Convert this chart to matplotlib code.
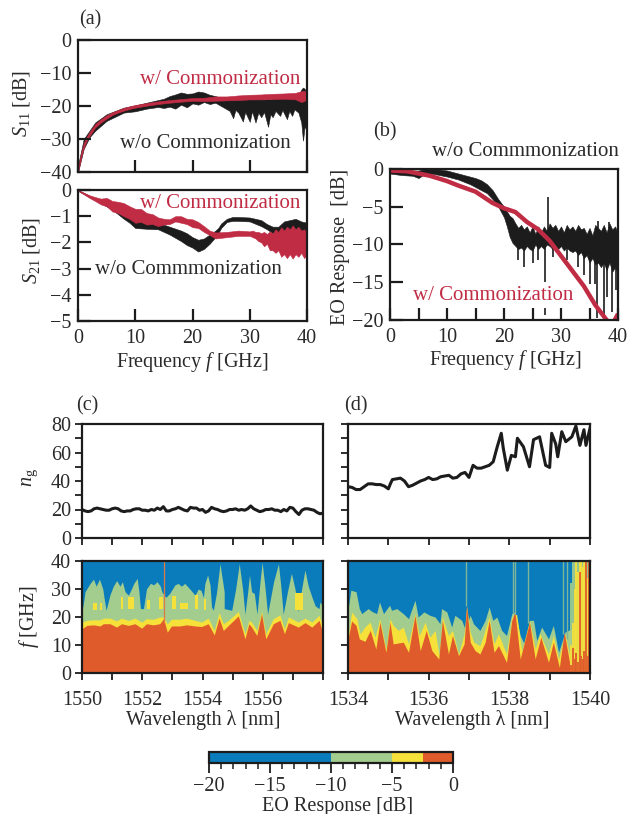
import matplotlib
matplotlib.use("Agg")
import matplotlib.pyplot as plt
from matplotlib.colors import ListedColormap, BoundaryNorm
from matplotlib.cm import ScalarMappable
from matplotlib.ticker import MultipleLocator

plt.rcParams['font.family'] = ['Liberation Serif', 'DejaVu Serif']
plt.rcParams['mathtext.fontset'] = 'custom'
plt.rcParams['mathtext.rm'] = 'Liberation Serif'
plt.rcParams['mathtext.it'] = 'Liberation Serif:italic'
plt.rcParams['font.size'] = 14

W, H = 629, 814
BLACK = '#1c1c1c'
RED = '#c02c44'
TXT = '#2a2a2a'
BLUE, GREEN, YELLOW, ORANGE = '#0a7cbc', '#a2cd8e', '#f6e03a', '#e05b2b'
THIN = '#7fb59a'

# --- (a) S11 ---
s11_red_f = [0, .3, .6, 1, 1.5, 2, 3, 4, 5, 6, 7, 8, 9, 10, 12, 14, 16, 18, 20, 22, 24, 26, 28, 30, 32, 34, 36, 38, 39, 39.5, 40]
s11_red_hi = [-39, -36.2, -33.8, -31.3, -29.4, -27.9, -25.5, -24, -22.8, -21.9, -21.2, -20.6, -20.1, -19.7, -19.1, -18.6, -18.2, -17.9, -17.6, -17.5, -17.1, -17.1, -16.8, -16.6, -16.5, -16.3, -16.2, -16, -15.5, -15.5, -15.5]
s11_red_lo = [-40, -37.8, -35.2, -32.7, -30.6, -29.1, -26.5, -25, -23.8, -22.7, -22, -21.4, -20.9, -20.5, -19.9, -19.4, -19, -18.7, -18.4, -18.5, -18.4, -18.3, -18.2, -18, -18, -17.9, -17.8, -18, -18.8, -18.5, -18]

s11_blk_f = [0, 1, 2, 3, 5, 8, 10, 12, 14, 15, 16, 17, 18, 19, 20, 21, 22, 23, 24, 25, 26, 26.5, 27.1, 27.5, 28, 28.8, 29.2, 30, 30.4, 31, 31.5, 32, 32.5, 33.2, 33.6, 34, 34.5, 35.3, 35.7, 36.5, 36.9, 37.4, 37.8, 38.5, 39, 39.3, 39.6, 40]
s11_blk_hi = [-38, -30, -27.5, -25, -22.5, -20.5, -19.8, -19, -18.2, -17.8, -17, -16.5, -15.9, -16.3, -16.2, -15.6, -15.9, -16.6, -17, -17.5, -18, -17.6, -18, -17.5, -18, -17.6, -18, -17.6, -18, -17.7, -18, -17.6, -18, -17.8, -18, -17.6, -17.8, -17.5, -17.8, -17.4, -17.6, -17.3, -17.4, -17, -15, -14.4, -14.8, -16]
s11_blk_lo = [-40, -33, -29.5, -27.5, -24.5, -22, -21.6, -20.8, -20.3, -20.6, -20.2, -20.8, -19.6, -20.4, -19.2, -19.6, -18.8, -19.4, -19, -20, -21, -21.5, -23.7, -21.2, -22, -24.7, -21.8, -24.8, -21.6, -25, -22, -23.4, -21.8, -26.3, -22.5, -23.4, -21.5, -23, -21.2, -24, -21.5, -23, -21, -22, -25, -30.5, -26, -28]

# --- (a) S21 ---
s21_red_f = [0, 1, 2, 3, 4, 5, 6, 7, 8, 9, 10, 11, 12, 13, 14, 15, 16, 17, 18, 19, 20, 21, 22, 23, 24, 26, 28, 30, 30.5, 31, 31.5, 32, 32.5, 33, 33.5, 34, 34.5, 35, 35.5, 36, 36.5, 37, 37.5, 38, 38.5, 39, 39.5, 40]
s21_red_hi = [0, -.1, -.2, -.27, -.33, -.3, -.42, -.45, -.5, -.62, -.72, -.72, -.88, -.92, -1.05, -1.1, -1.12, -1, -1, -1.1, -1.12, -1.22, -1.38, -1.55, -1.62, -1.6, -1.55, -1.58, -1.55, -1.6, -1.6, -1.65, -1.6, -1.68, -1.58, -1.66, -1.5, -1.6, -1.42, -1.55, -1.4, -1.5, -1.35, -1.5, -1.4, -1.55, -1.5, -1.65]
s21_red_lo = [-.03, -.16, -.3, -.42, -.55, -.62, -.82, -.88, -1, -1.1, -1.25, -1.22, -1.32, -1.3, -1.38, -1.32, -1.3, -1.2, -1.25, -1.3, -1.42, -1.45, -1.6, -1.72, -1.85, -1.8, -1.75, -1.75, -1.8, -1.85, -1.95, -2, -2.15, -2.05, -2.3, -2.3, -2.4, -2.3, -2.55, -2.45, -2.6, -2.45, -2.62, -2.45, -2.55, -2.4, -2.6, -2.45]

s21_blk_f = [0, 2, 4, 6, 8, 9, 10, 12, 14, 16, 18, 19, 20, 21, 22, 23, 24, 24.5, 25, 26, 27, 28, 30, 32, 33, 34, 35, 36, 37, 38, 39, 40]
s21_blk_hi = [0, -.22, -.42, -.6, -.85, -1, -1.15, -1.2, -1.25, -1.4, -1.55, -1.65, -1.8, -1.9, -1.85, -1.7, -1.55, -1.45, -1.28, -1.1, -1.03, -1.03, -1.05, -1.15, -1.3, -1.4, -1.4, -1.2, -1.15, -1.1, -1.2, -1.25]
s21_blk_lo = [-.03, -.27, -.5, -.75, -1.1, -1.25, -1.45, -1.48, -1.5, -1.7, -1.95, -2.1, -2.2, -2.35, -2.25, -2.05, -1.8, -1.65, -1.45, -1.22, -1.18, -1.18, -1.2, -1.38, -1.5, -1.65, -1.75, -1.6, -1.55, -1.6, -1.65, -1.7]

# --- (b) EO response ---
eo_red_f = [0, 3, 5, 7, 10, 12, 15, 17, 18, 20, 22, 24, 26, 28, 30, 32, 34, 36, 37, 38, 39, 40]
eo_red = [-.2, -.3, -.6, -.9, -1.6, -2.2, -3, -4, -4.5, -5.2, -5.7, -7, -8, -9.5, -11.5, -13.5, -15.5, -18, -19, -20, -20.6, -19.2]

eo_blk_f = [0, 2, 4, 5, 6, 7, 8, 10, 12, 14, 15, 16, 17, 18, 19, 20, 20.5, 21, 21.5, 22, 22.5, 23, 23.5, 24, 24.5, 25, 25.5, 26, 26.5, 27, 27.5, 28, 28.5, 29, 29.5, 30, 30.5, 31, 31.5, 32, 32.5, 33, 33.5, 34, 34.5, 35, 35.5, 36, 36.5, 37, 37.5, 38, 38.5, 39, 39.5, 40]
eo_blk_hi = [-.1, -.1, -.2, -.2, 0, 0, 0, -.2, -.6, -1, -1.2, -1.5, -2, -2.8, -4, -5, -5.6, -6.2, -6.5, -7.2, -7.8, -7.4, -8, -7.6, -8.4, -7.6, -8.6, -7.6, -8.4, -7.6, -8.2, -7.2, -7.8, -7.4, -8.2, -7.6, -8.4, -7.4, -8, -7.6, -8.2, -7.4, -8, -7.8, -8.6, -7.8, -8.8, -7.4, -7.8, -8.2, -7.4, -8.4, -7.2, -8, -7.6, -8.6]
eo_blk_lo = [-.6, -.8, -.9, -1.2, -.7, -.6, -.7, -1, -1.4, -2, -2.4, -2.8, -3.2, -4, -5, -6.4, -7.6, -9, -9.8, -10.2, -10.6, -10.4, -10.8, -10.2, -10.6, -10.8, -10, -10.6, -10.2, -10.6, -10, -10.2, -10.6, -10.2, -10.6, -10.2, -10.8, -10.4, -10.8, -11, -10.8, -11.4, -11, -11.8, -11.4, -12.4, -11.8, -12.6, -12.4, -13, -12.4, -13.4, -12.4, -13.6, -13, -14]
eo_spike_f = [27.2, 27.8, 27.2, 22.4, 23.5, 25, 26, 28.6, 31, 33, 34, 35, 36, 36.4, 37.5, 38, 39, 39.6, 36.5, 38.5]
eo_spike_top = [-9, -3.7, -18.4, -10, -10, -10, -10, -10, -10, -10, -11, -11, -12, -12, -12, -12, -13, -13, -6.9, -7]
eo_spike_bot = [-15, -9, -19.3, -12, -13, -12.5, -12, -11.7, -12, -13, -14, -15.2, -15.2, -19.8, -19.8, -17, -19, -16, -8, -8]

# --- (c) group index ---
ng_c_wl = [1550 + i * 0.1 for i in range(81)]
ng_c = [20, 19, 18.5, 19, 20.5, 21, 20.5, 20, 19.5, 19.5, 20.5, 21, 20.5, 19, 18.5, 19, 19, 20, 20.5, 20.5,
        19.5, 19.5, 19, 20, 19.5, 21, 20, 22, 19, 19, 20, 20.5, 21.5, 20.5, 19.5, 19, 21.5, 21, 21, 19.5,
        20, 18, 19, 21.5, 20.5, 20, 19, 18.5, 19, 20, 20, 20.5, 19.5, 20, 19.5, 20.5, 22.5, 20.5, 19.5, 18.5,
        19, 20, 20, 20.5, 19.5, 19.5, 18.5, 20, 19, 21.5, 21, 18.5, 16.5, 19.5, 20.5, 20.5, 20, 19.5, 18, 17, 17.5]

# --- (d) group index ---
ng_d_wl = [1534, 1534.1, 1534.2, 1534.3, 1534.4, 1534.5, 1534.6, 1534.7, 1534.8, 1534.9, 1535, 1535.05, 1535.1, 1535.2, 1535.3, 1535.4, 1535.5, 1535.6, 1535.7, 1535.8, 1535.9, 1536, 1536.1, 1536.2, 1536.3, 1536.4, 1536.5, 1536.6, 1536.7, 1536.8, 1536.9, 1537, 1537.1, 1537.2, 1537.3, 1537.4, 1537.5, 1537.6, 1537.7, 1537.8, 1537.85, 1537.95, 1538.05, 1538.15, 1538.2, 1538.35, 1538.5, 1538.6, 1538.75, 1538.9, 1539, 1539.05, 1539.15, 1539.2, 1539.3, 1539.4, 1539.55, 1539.65, 1539.75, 1539.85, 1539.9, 1540]
ng_d = [36, 35.5, 34, 34, 36, 38, 38, 37.5, 37.5, 36.5, 34.5, 38, 41, 41.5, 42, 40, 36, 37, 38.5, 40, 41, 42.5, 41, 41.5, 43, 43.5, 44, 42, 42.5, 45, 46, 42.5, 51, 49, 49, 50, 51, 53.5, 64, 73.5, 63, 47.6, 58, 57, 70, 64, 50, 69, 71, 51, 49.5, 73.5, 66, 57, 74.6, 67.6, 71, 78.6, 65, 76, 65, 77]

# --- (c) map: top frequency of each colour band ---
c_org_wl = [1550, 1550.16, 1550.38, 1550.6, 1550.71, 1550.93, 1551.15, 1551.31, 1551.54, 1551.76, 1551.98, 1552.14, 1552.36, 1552.58, 1552.71, 1552.83, 1552.97, 1553.25, 1553.47, 1553.75, 1553.97, 1554.19, 1554.39, 1554.55, 1554.69, 1554.86, 1555.19, 1555.41, 1555.54, 1555.63, 1555.8, 1555.96, 1556.1, 1556.35, 1556.57, 1556.72, 1556.85, 1557.18, 1557.4, 1557.63, 1557.87, 1558]
c_org = [15.8, 17, 17.2, 16.8, 17.6, 17.6, 16.4, 17.6, 17, 17.6, 16, 17.6, 17.2, 17.6, 19.4, 14.6, 16.8, 16.8, 17.2, 16.8, 16.6, 17.6, 13.6, 19.6, 15.2, 17, 20.4, 12.2, 17.6, 16.4, 13.4, 21.2, 12.2, 17.6, 18.8, 14, 18, 16.4, 18, 16.4, 18.8, 14]
c_yel = [18.2, 18.8, 19, 19, 19.6, 19.6, 18.6, 19.6, 18.8, 19.6, 18.2, 19.4, 19.2, 20, 20, 17.6, 19.2, 19.2, 19.6, 18.8, 18.2, 19.6, 15.2, 21.6, 17.6, 18.8, 22, 14, 18.8, 18.2, 15.2, 22, 14, 19.4, 20.8, 15.8, 20, 18.2, 19.6, 18.2, 20.6, 16.4]
c_grn_wl = [1550, 1550.07, 1550.1, 1550.27, 1550.38, 1550.47, 1550.58, 1550.69, 1550.73, 1550.8, 1550.93, 1551.04, 1551.15, 1551.26, 1551.34, 1551.43, 1551.54, 1551.64, 1551.72, 1551.83, 1551.89, 1551.94, 1552.04, 1552.14, 1552.27, 1552.38, 1552.49, 1552.6, 1552.65, 1552.78, 1552.91, 1553.08, 1553.19, 1553.3, 1553.41, 1553.58, 1553.75, 1553.86, 1553.95, 1554.03, 1554.08, 1554.17, 1554.25, 1554.3, 1554.36, 1554.47, 1554.58, 1554.72, 1554.72, 1554.97, 1555.1, 1555.22, 1555.33, 1555.41, 1555.5, 1555.56, 1555.63, 1555.72, 1555.81, 1555.91, 1555.98, 1556.08, 1556.16, 1556.36, 1556.52, 1556.6, 1556.68, 1556.82, 1556.95, 1557.07, 1557.18, 1557.29, 1557.4, 1557.51, 1557.65, 1557.74, 1557.87, 1557.9, 1558]
c_grn = [22, 26.5, 29, 32, 33.5, 31, 33.5, 30, 27, 22.4, 28, 31, 33, 31, 32.6, 29, 27.8, 30, 32, 33.8, 29, 23, 23, 30, 32, 31.5, 32.6, 31, 29, 27, 28.4, 31.4, 32, 31, 32, 30, 27.8, 30, 29.5, 27, 32, 35, 31.4, 23.6, 22.4, 29, 39, 29, 23, 22.4, 30, 39, 30, 21, 29, 35, 29, 28.4, 21, 32.6, 39.5, 30, 21, 32.6, 39, 31, 21, 29, 35.6, 30, 22, 30, 36.8, 31, 26.6, 24, 23, 25.4, 23.6]
c_isle_l = [1550.38, 1550.6, 1551.28, 1551.52, 1552.17, 1552.57, 1552.98, 1553.25, 1553.75, 1554.06, 1557.07]
c_isle_r = [1550.51, 1550.66, 1551.37, 1551.73, 1552.26, 1552.68, 1553.12, 1553.53, 1553.84, 1554.12, 1557.32]
c_isle_lo = [22.5, 22.5, 23, 23, 23, 23, 23, 23, 23, 22.5, 22.5]
c_isle_hi = [25, 25, 27, 27, 26, 27, 27.5, 25, 28, 26.5, 28.5]
c_line_wl = [1552.72]

# --- (d) map ---
d_grn_wl = [1534, 1534.07, 1534.2, 1534.28, 1534.34, 1534.5, 1534.59, 1534.71, 1534.78, 1534.88, 1535.03, 1535.08, 1535.21, 1535.37, 1535.5, 1535.66, 1535.74, 1535.88, 1536.03, 1536.16, 1536.28, 1536.32, 1536.45, 1536.57, 1536.65, 1536.82, 1536.9, 1537.03, 1537.11, 1537.27, 1537.4, 1537.5, 1537.59, 1537.69, 1537.81, 1537.93, 1538.06, 1538.14, 1538.27, 1538.39, 1538.5, 1538.6, 1538.68, 1538.8, 1538.97, 1539.09, 1539.22, 1539.38, 1539.55]
d_grn = [22.4, 29.6, 29, 23, 21.2, 23, 22, 21.2, 25.4, 21.2, 24.2, 22.4, 23, 21.2, 19.4, 26, 20, 21.8, 20.6, 20, 17.6, 23, 21.8, 16.4, 20.6, 18.8, 15.8, 20.6, 17.6, 15.2, 18.8, 23.6, 18.8, 20, 15.2, 13.4, 21.2, 21.8, 13.4, 9.8, 18.8, 18.8, 11.6, 16.4, 12.2, 17, 7.4, 14.6, 15.8]
d_yel_wl = [1534, 1534.09, 1534.22, 1534.3, 1534.42, 1534.55, 1534.67, 1534.79, 1534.94, 1535.04, 1535.12, 1535.25, 1535.37, 1535.5, 1535.66, 1535.77, 1535.91, 1536.03, 1536.16, 1536.26, 1536.34, 1536.49, 1536.59, 1536.74, 1536.88, 1536.94, 1537.03, 1537.12, 1537.27, 1537.37, 1537.5, 1537.62, 1537.73, 1537.93, 1538.06, 1538.18, 1538.31, 1538.5, 1538.64, 1538.76, 1538.97, 1539.09, 1539.22, 1539.38, 1539.55]
d_yel = [12.8, 21.8, 19.4, 14, 16.5, 18.2, 12.8, 19.4, 8.6, 19.4, 17, 15.2, 16.4, 10.4, 21.2, 13.4, 18.2, 12.8, 15.2, 6.2, 20, 13.4, 15.2, 6.8, 14, 24, 14.6, 11, 9.8, 14, 20, 10.4, 14, 6.8, 20, 21, 8, 18.8, 8.6, 14, 6.8, 13.4, 5, 14, 2.6]
d_org_wl = [1534, 1534.09, 1534.2, 1534.28, 1534.42, 1534.55, 1534.69, 1534.79, 1534.94, 1535.04, 1535.12, 1535.37, 1535.5, 1535.66, 1535.79, 1535.94, 1536.08, 1536.25, 1536.34, 1536.49, 1536.59, 1536.74, 1536.88, 1536.94, 1537.03, 1537.15, 1537.27, 1537.4, 1537.5, 1537.62, 1537.73, 1537.93, 1538.06, 1538.14, 1538.27, 1538.5, 1538.64, 1538.78, 1538.97, 1539.09, 1539.24, 1539.36, 1539.5, 1539.63, 1539.8, 1539.96]
d_org = [12.2, 18.6, 17, 12.2, 11.3, 15.2, 8.6, 18.2, 7.4, 18.2, 10.4, 11, 7.4, 20.6, 8, 15.2, 8, 5, 18.8, 6.8, 13.4, 6.2, 10.4, 24, 11, 8, 6.8, 11, 18.8, 7.4, 9.8, 3.8, 18.8, 21.8, 5, 18.2, 5, 12.8, 3.8, 11, 2, 14.6, 3.2, 7.4, 2.6, 0.5]
d_thin_wl = [1536.92, 1538.08, 1538.14, 1538.47, 1539.32, 1539.42]
d_thin_bot = [24, 21, 21, 18, 14, 12]
d_stripe_wl = [1539.54, 1539.58, 1539.62, 1539.66, 1539.7, 1539.74, 1539.78, 1539.82, 1539.86, 1539.9, 1539.94, 1539.98]
d_stripe_grn = [32, 40, 40, 40, 40, 40, 40, 40, 40, 40, 40, 40]
d_stripe_yel = [10, 18, 30, 40, 36, 40, 40, 38, 40, 40, 34, 30]
d_stripe_org = [3, 9, 5, 7, 4, 36, 6, 5, 8, 40, 6, 40]

# --- colour bar ---
cb_bounds = [-20, -10, -5, -2.5, 0]
cb_ticks = [-20, -15, -10, -5, 0]

# --- wavelength tick labels ---
c_labels = ['1550', '1552', '1554', '1556', '']
d_labels = ['1534', '1536', '1538', '1540']

fig = plt.figure(figsize=(W / 100, H / 100), dpi=100)


def px_axes(left, top, right, bottom):
    ax = fig.add_axes([left / W, 1 - bottom / H, (right - left) / W, (bottom - top) / H])
    for s in ax.spines.values():
        s.set_linewidth(1.6)
        s.set_color(BLACK)
        s.set_zorder(10)
    ax.tick_params(colors=TXT, labelsize=14.5)
    return ax


def px_text(x, y, s, **kw):
    kw.setdefault('color', TXT)
    kw.setdefault('fontsize', 14.5)
    fig.text(x / W, 1 - y / H, s, ha='center', va='center', **kw)


def inward(ax):
    ax.tick_params(axis='both', which='major', direction='in', length=9, width=1.6, color=BLACK, pad=5)
    ax.tick_params(axis='x', which='major', pad=6)


# (a) top
ax = px_axes(78, 40, 307, 172)
ax.fill_between(s11_blk_f, s11_blk_lo, s11_blk_hi, color=BLACK, lw=0.4)
ax.fill_between(s11_red_f, s11_red_lo, s11_red_hi, color=RED, lw=0.4)
ax.set_xlim(0, 40)
ax.set_ylim(-40, 0)
ax.set_xticks([0, 10, 20, 30, 40])
ax.set_xticklabels([])
ax.set_yticks([0, -10, -20, -30, -40])
inward(ax)

# (a) bottom
ax = px_axes(78, 190, 307, 321)
ax.fill_between(s21_blk_f, s21_blk_lo, s21_blk_hi, color=BLACK, lw=0.4)
ax.fill_between(s21_red_f, s21_red_lo, s21_red_hi, color=RED, lw=0.4)
ax.set_xlim(0, 40)
ax.set_ylim(-5, 0)
ax.set_xticks([0, 10, 20, 30, 40])
ax.set_yticks([0, -1, -2, -3, -4, -5])
inward(ax)

# (b)
ax = px_axes(390, 169, 618, 320)
ax.fill_between(eo_blk_f, eo_blk_lo, eo_blk_hi, color=BLACK, lw=0.4)
ax.vlines(eo_spike_f, eo_spike_bot, eo_spike_top, color=BLACK, lw=1.2)
ax.plot(eo_red_f, eo_red, color=RED, lw=3.2, solid_capstyle='butt')
ax.set_xlim(0, 40)
ax.set_ylim(-20, 0)
ax.set_xticks(range(0, 41, 10))
ax.set_xticks(range(5, 40, 10), minor=True)
ax.set_yticks([0, -5, -10, -15, -20])
inward(ax)
ax.tick_params(axis='x', which='minor', direction='in', length=9, width=1.6, color=BLACK)


def outward(ax):
    ax.tick_params(axis='both', which='both', direction='out', width=1.3, color=BLACK, length=5, pad=3)
    ax.xaxis.set_major_locator(MultipleLocator(2))
    ax.xaxis.set_minor_locator(MultipleLocator(1))


def ng_panel(left, right, wl, ng, xlim, ylabels):
    ax = px_axes(left, 424, right, 538)
    ax.plot(wl, ng, color=BLACK, lw=2.2)
    ax.set_xlim(*xlim)
    ax.set_ylim(0, 80)
    ax.yaxis.set_major_locator(MultipleLocator(20))
    ax.yaxis.set_minor_locator(MultipleLocator(10))
    outward(ax)
    ax.set_xticklabels([])
    if not ylabels:
        ax.set_yticklabels([])
    return ax


def map_panel(left, right, xlim, labels, ylabels):
    ax = px_axes(left, 561, right, 673)
    ax.set_facecolor(BLUE)
    ax.set_xlim(*xlim)
    ax.set_ylim(0, 40)
    ax.yaxis.set_major_locator(MultipleLocator(10))
    outward(ax)
    ax.set_xticks(range(int(xlim[0]), int(xlim[1]) + 1, 2))
    ax.set_xticklabels(labels)
    ax.tick_params(axis='x', which='major', pad=8)
    if not ylabels:
        ax.set_yticklabels([])
    return ax


# (c)
ng_panel(82, 323, ng_c_wl, ng_c, (1550, 1558), True)
ax = map_panel(82, 323, (1550, 1558), c_labels, True)
ax.fill_between(c_grn_wl, 0, c_grn, color=GREEN, lw=0)
ax.fill_between(c_org_wl, 0, c_yel, color=YELLOW, lw=0)
ax.fill_between(c_org_wl, 0, c_org, color=ORANGE, lw=0)
for l, r, lo, hi in zip(c_isle_l, c_isle_r, c_isle_lo, c_isle_hi):
    ax.fill_between([l, r], lo, hi, color=YELLOW, lw=0)
ax.vlines(c_line_wl, 18, 40, color='#e07a45', lw=0.9)

# (d)
ng_panel(348, 590, ng_d_wl, ng_d, (1534, 1540), False)
ax = map_panel(348, 590, (1534, 1540), d_labels, False)
ax.fill_between(d_grn_wl, 0, d_grn, color=GREEN, lw=0)
ax.fill_between(d_yel_wl, 0, d_yel, color=YELLOW, lw=0)
ax.fill_between(d_org_wl, 0, d_org, color=ORANGE, lw=0)
ax.vlines(d_thin_wl, d_thin_bot, 40, color=THIN, lw=1.0)
ax.vlines(d_stripe_wl, 0, d_stripe_grn, color=GREEN, lw=1.3)
ax.vlines(d_stripe_wl, 0, d_stripe_yel, color=YELLOW, lw=1.3)
ax.vlines(d_stripe_wl, 0, d_stripe_org, color=ORANGE, lw=1.3)

# colour bar
cax = px_axes(209, 752, 453, 763)
cmap = ListedColormap([BLUE, GREEN, YELLOW, ORANGE])
norm = BoundaryNorm(cb_bounds, cmap.N)
cb = fig.colorbar(ScalarMappable(norm=norm, cmap=cmap), cax=cax, orientation='horizontal',
                  spacing='proportional', ticks=cb_ticks)
cb.outline.set_linewidth(1.6)
cb.outline.set_color(BLACK)
cb.ax.xaxis.set_major_formatter(plt.FuncFormatter(lambda v, p: f"{v:.0f}".replace('-', '\u2212')))
cb.ax.xaxis.set_minor_locator(MultipleLocator(1))
cb.ax.tick_params(axis='x', which='major', direction='out', length=7, width=1.3, color=BLACK, labelsize=14.5, labelcolor=TXT, pad=3)
cb.ax.tick_params(axis='x', which='minor', direction='out', length=4, width=1.1, color=BLACK)

# text
px_text(90, 20, '(a)')
px_text(385, 132, '(b)')
px_text(87, 406, '(c)')
px_text(356, 406, '(d)')
px_text(220, 79, 'w/ Commonization', color=RED, fontsize=15)
px_text(205, 143, 'w/o Commonization', fontsize=15)
px_text(220, 204, 'w/ Commonization', color=RED, fontsize=15)
px_text(188, 269, 'w/o Commmonization', fontsize=15)
px_text(525, 152, 'w/o Commmonization', fontsize=15)
px_text(493, 295, 'w/ Commonization', color=RED, fontsize=15)
px_text(21, 103, r'$S_{11}$ [dB]', rotation=90)
px_text(32, 250, r'$S_{21}$ [dB]', rotation=90)
px_text(340, 247, 'EO Response  [dB]', rotation=90)
px_text(30, 478, r'$n_{\mathrm{g}}$', rotation=90)
px_text(29, 617, r'$f$ [GHz]', rotation=90)
px_text(192, 362, r'Frequency $f$ [GHz]')
px_text(505, 360, r'Frequency $f$ [GHz]')
px_text(203, 720, 'Wavelength λ [nm]')
px_text(472, 720, 'Wavelength λ [nm]')
px_text(338, 806, 'EO Response [dB]')

fig.savefig('out.png', dpi=100)
